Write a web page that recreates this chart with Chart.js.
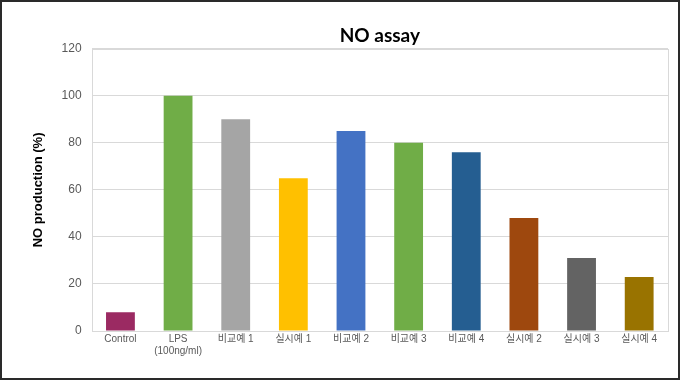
<!DOCTYPE html>
<html>
<head>
<meta charset="utf-8">
<script src="https://cdn.jsdelivr.net/npm/chart.js@4"></script>
<style>
  html, body { margin: 0; padding: 0; background: #fff; }
  #wrap { width: 680px; height: 380px; box-sizing: border-box; border: 2px solid #2a2a2a; position: relative; }
</style>
</head>
<body>
<div id="wrap"><canvas id="noChart"></canvas></div>
<script>
// categorias e valores
const categories = ['Control', ['LPS', '(100ng/ml)'], '비교예 1', '실시예 1', '비교예 2', '비교예 3', '비교예 4', '실시예 2', '실시예 3', '실시예 4'];
const noProduction = [8, 100, 90, 65, 85, 80, 76, 48, 31, 23];
const barColors = ['#9b2a62', '#70ad47', '#a5a5a5', '#ffc000', '#4472c4', '#70ad47', '#255e91', '#9e480e', '#636363', '#997300'];
const yTicks = [0, 20, 40, 60, 80, 100, 120];

// borda cinza em volta da área do gráfico
const plotBorder = {
    id: 'plotBorder',
    afterDraw(chart) {
        const { ctx, chartArea: a } = chart;
        ctx.save();
        ctx.strokeStyle = '#d9d9d9';
        ctx.lineWidth = 1;
        ctx.strokeRect(Math.round(a.left) + 0.5, Math.round(a.top) + 0.5, Math.round(a.right - a.left), Math.round(a.bottom - a.top));
        ctx.restore();
    }
};

const ctx = document.getElementById('noChart').getContext('2d');
const noChart = new Chart(ctx, {
    type: 'bar',
    data: {
        labels: categories,
        datasets: [{
            label: 'NO production (%)',
            data: noProduction,
            backgroundColor: barColors,
            borderWidth: 0,
            barPercentage: 0.5,
            categoryPercentage: 1.0
        }]
    },
    options: {
        responsive: true,
        maintainAspectRatio: false,
        animation: false,
        layout: {
            padding: { top: 8, right: 10, bottom: 19, left: 25 }
        },
        plugins: {
            legend: { display: false },
            tooltip: { enabled: false },
            title: {
                display: true,
                text: 'NO assay',
                fullSize: false,
                color: '#000',
                font: { family: 'Lato', size: 19, weight: 'bold' },
                padding: { top: 14, bottom: 2 }
            }
        },
        scales: {
            y: {
                min: 0,
                max: 120,
                afterBuildTicks: (axis) => { axis.ticks = yTicks.map(v => ({ value: v })); },
                grid: { color: '#d9d9d9', drawTicks: false },
                border: { display: false },
                ticks: {
                    color: '#595959',
                    padding: 10,
                    font: { family: 'Liberation Sans', size: 12 }
                },
                title: {
                    display: true,
                    text: 'NO production (%)',
                    color: '#000',
                    padding: { bottom: 5 },
                    font: { family: 'Liberation Sans', size: 13, weight: 'bold' }
                }
            },
            x: {
                grid: { display: false, drawTicks: false, tickLength: 0 },
                border: { display: false },
                ticks: {
                    color: '#595959',
                    padding: 2,
                    maxRotation: 0,
                    autoSkip: false,
                    font: { family: "'Liberation Sans', 'Noto Sans CJK KR'", size: 10 }
                }
            }
        }
    },
    plugins: [plotBorder]
});
</script>
</body>
</html>
